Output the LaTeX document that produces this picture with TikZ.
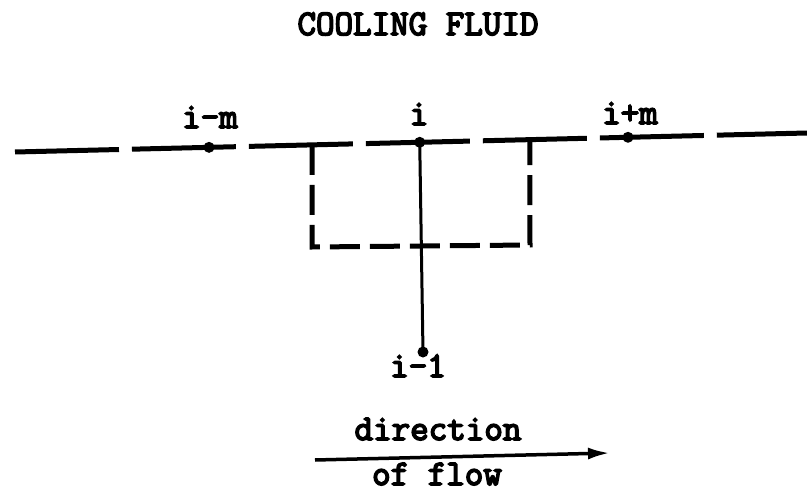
\documentclass[tikz,border=0pt]{standalone}
\usepackage{fontspec}
\newfontfamily\typefont{Latin Modern Mono}[FakeBold=4.5]
\usetikzlibrary{calc,arrows.meta}

\begin{document}
\begin{tikzpicture}[x=1pt, y=-1pt, >=latex, font=\fontsize{36}{42}\typefont,
    dot/.style={circle, fill, inner sep=0pt, minimum size=11pt},
    lbl/.style={inner sep=0pt, anchor=base}]
  \useasboundingbox (0,0) rectangle (807,495);
  \node[lbl] (title) at (418,35) {COOLING FLUID};
  % main line
  \coordinate (west) at (15,152);
  \coordinate (east) at (807,133);
  \draw[line width=5pt, dash pattern=on 104pt off 13pt] (west) -- (east);
  \node[dot] (im) at ($(west)!0.245!(east)$) {};
  \node[dot] (i) at ($(west)!0.511!(east)$) {};
  \node[dot] (ip) at ($(west)!0.774!(east)$) {};
  \node[lbl] at (210,128) {i-m};
  \node[lbl] at (419,125) {i};
  \node[lbl] at (630,124) {i+m};
  % box
  \coordinate (tl) at ($(west)!0.375!(east)$);
  \coordinate (tr) at ($(west)!0.650!(east)$);
  \coordinate (bl) at (312,247);
  \coordinate (br) at (530,245);
  \draw[line width=5pt, dash pattern=on 30pt off 10pt] (tl) -- (bl) -- (br) -- (tr);
  % stem
  \node[dot] (il) at (423,352) {};
  \draw[line width=3pt] (i.center) -- (il.center);
  \node[lbl] at (418,377) {i-1};
  % flow
  \coordinate (fs) at (315,460);
  \coordinate (fe) at (610,453);
  \draw[-{Latex[length=22pt,width=12pt]}, line width=3.5pt] (fs) -- (fe);
  \node[lbl] at (438,440) {direction};
  \node[lbl] at (437,485) {of flow};
\end{tikzpicture}
\end{document}
